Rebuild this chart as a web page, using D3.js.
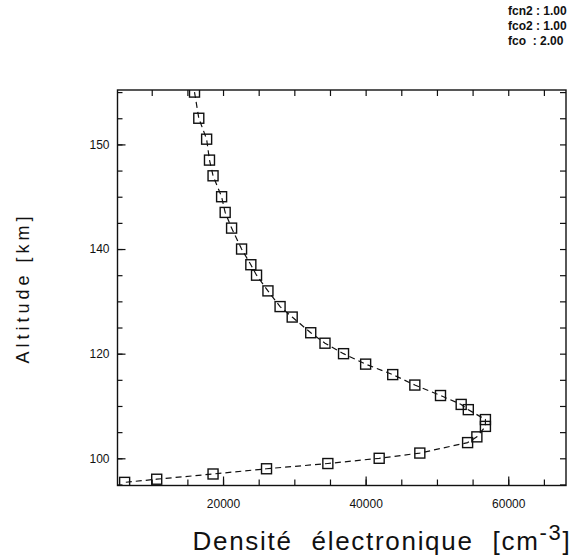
<!DOCTYPE html>
<html lang="fr">
<head>
  <meta charset="UTF-8">
  <title>Densité électronique</title>
  <script src="https://cdn.jsdelivr.net/npm/d3@7"></script>
  <style>
    body { margin: 0; background: #fff; }
    text { font-family: "Liberation Sans", Arial, sans-serif; fill: #111; }
  </style>
</head>
<body>
  <svg width="579" height="559"></svg>
  <script>
    // profil
    let altitude = [170, 165, 161, 157, 154, 150, 147, 144, 140, 137, 135, 132, 129, 127, 124, 122, 120, 118, 116, 114, 112, 110.3, 109.3, 107.4, 106.1, 104.1, 103, 101, 100, 99, 98, 97, 96, 95.4];
    let density = [16000, 16600, 17700, 18100, 18600, 19800, 20300, 21200, 22600, 23900, 24700, 26300, 28000, 29700, 32300, 34300, 36900, 40000, 43800, 46900, 50500, 53400, 54400, 56800, 56800, 55600, 54300, 47600, 41900, 34700, 26100, 18600, 10700, 6200];
    let xTicks = [20000, 40000, 60000];
    let yTicks = [100, 120, 140, 160];
    let yTickLabels = ['100', '120', '140', '150'];
    let params = ['fcn2 : 1.00', 'fco2 : 1.00', 'fco  : 2.00'];

    let svg = d3.select('svg');
    let mLeft = 117.5, mRight = 566, mTop = 90, mBottom = 485.5;

    let x = d3.scaleLinear().domain([5200, 68100]).range([mLeft, mRight]);
    let y = d3.scaleLinear().domain([94.8, 170.4]).range([mBottom, mTop]);

    svg.append('clipPath').attr('id', 'clip')
      .append('rect')
      .attr('x', mLeft).attr('y', mTop)
      .attr('width', mRight - mLeft).attr('height', mBottom - mTop);

    // axes : graduations vers l'intérieur
    let minorX = d3.range(10000, 68000, 5000);
    let minorY = d3.range(95, 171, 5);

    svg.append('g')
      .attr('transform', `translate(0,${mBottom})`)
      .call(d3.axisBottom(x).tickValues(minorX).tickSize(-6).tickFormat(''))
      .call(g => g.select('.domain').remove());
    svg.append('g')
      .attr('transform', `translate(0,${mBottom})`)
      .call(d3.axisBottom(x).tickValues(xTicks).tickSize(-9).tickPadding(14).tickFormat(d3.format('d')))
      .call(g => g.select('.domain').remove())
      .call(g => g.selectAll('text').attr('font-size', 12).attr('font-family', '"Liberation Sans", Arial, sans-serif'));
    svg.append('g')
      .attr('transform', `translate(0,${mTop})`)
      .call(d3.axisTop(x).tickValues(minorX).tickSize(-6).tickFormat(''))
      .call(g => g.select('.domain').remove());

    svg.append('g')
      .attr('transform', `translate(${mLeft},0)`)
      .call(d3.axisLeft(y).tickValues(minorY).tickSize(-5).tickFormat(''))
      .call(g => g.select('.domain').remove());
    svg.append('g')
      .attr('transform', `translate(${mLeft},0)`)
      .call(d3.axisLeft(y).tickValues(yTicks).tickSize(-8).tickPadding(8)
        .tickFormat((d, i) => yTickLabels[i]))
      .call(g => g.select('.domain').remove())
      .call(g => g.selectAll('text').attr('font-size', 12).attr('font-family', '"Liberation Sans", Arial, sans-serif'));
    svg.append('g')
      .attr('transform', `translate(${mRight},0)`)
      .call(d3.axisRight(y).tickValues(minorY).tickSize(-6).tickFormat(''))
      .call(g => g.select('.domain').remove());

    svg.selectAll('.tick line').attr('stroke', '#111').attr('stroke-width', 1.2);

    svg.append('rect')
      .attr('x', mLeft).attr('y', mTop)
      .attr('width', mRight - mLeft).attr('height', mBottom - mTop)
      .attr('fill', 'none').attr('stroke', '#111').attr('stroke-width', 1.4);

    let pts = altitude.map((a, i) => ({alt: a, n: density[i]}));
    let plot = svg.append('g').attr('clip-path', 'url(#clip)');

    let line = d3.line().x(d => x(d.n)).y(d => y(d.alt));
    plot.append('path')
      .datum(pts)
      .attr('d', line)
      .attr('fill', 'none')
      .attr('stroke', '#111')
      .attr('stroke-width', 1.2)
      .attr('stroke-dasharray', '6,4');

    plot.selectAll('rect.pt')
      .data(pts)
      .join('rect')
      .attr('class', 'pt')
      .attr('x', d => x(d.n) - 5)
      .attr('y', d => y(d.alt) - 5)
      .attr('width', 10)
      .attr('height', 10)
      .attr('fill', 'none')
      .attr('stroke', '#111')
      .attr('stroke-width', 1.4);

    // titres
    svg.append('text')
      .attr('transform', 'translate(29,288) rotate(-90)')
      .attr('text-anchor', 'middle')
      .attr('font-size', 18)
      .attr('letter-spacing', 4)
      .text('Altitude [km]');

    let xt = svg.append('text')
      .attr('x', 382).attr('y', 550)
      .attr('text-anchor', 'middle')
      .attr('font-size', 26)
      .attr('letter-spacing', 1.7)
      .attr('word-spacing', 10);
    xt.append('tspan').text('Densité électronique [cm');
    xt.append('tspan').attr('dy', -10).attr('font-size', 22).text('-3');
    xt.append('tspan').attr('dy', 10).text(']');

    svg.append('g')
      .selectAll('text')
      .data(params)
      .join('text')
      .attr('x', 508)
      .attr('y', (d, i) => 15 + i * 15)
      .attr('font-size', 12)
      .attr('font-weight', 'bold')
      .style('white-space', 'pre')
      .text(d => d);
  </script>
</body>
</html>
